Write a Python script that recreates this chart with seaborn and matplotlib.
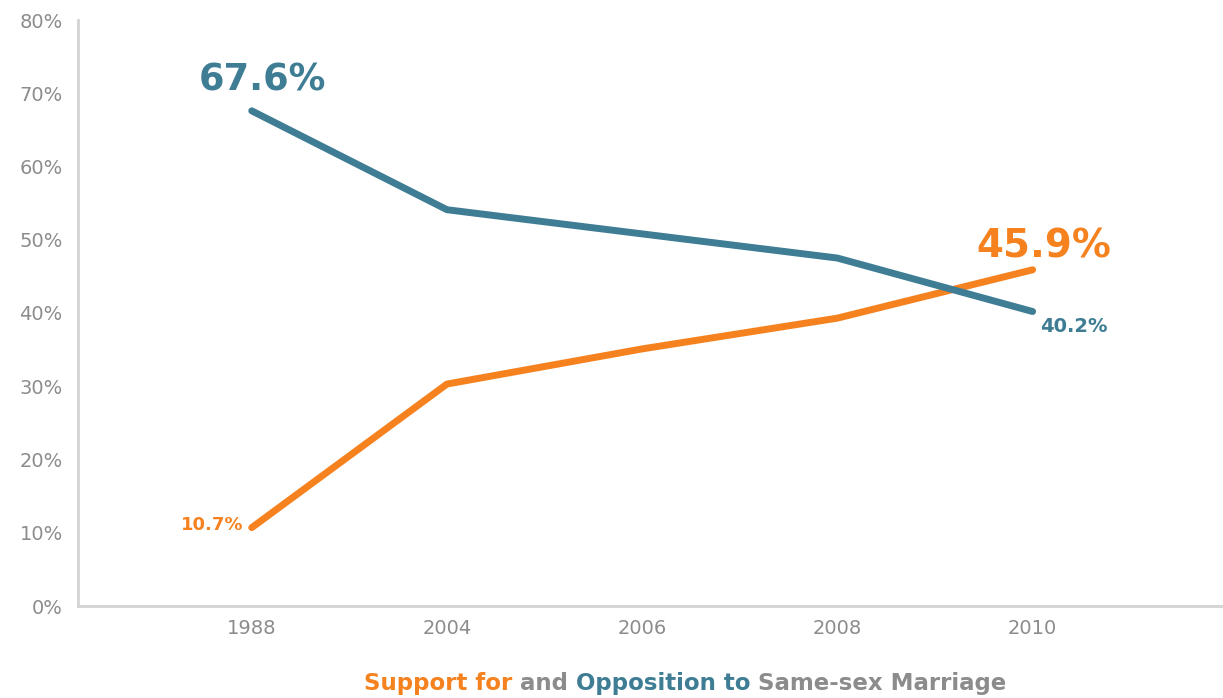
import pandas as pd
import matplotlib.pyplot as plt
import seaborn as sns

# Data
years = ["1988", "2004", "2006", "2008", "2010"]
support = [10.7, 30.3, 35.1, 39.3, 45.9]
opposition = [67.6, 54.1, 50.8, 47.5, 40.2]

orange = "#f5821f"
blue = "#3f7d95"
gray = "#8c8c8c"

df = pd.DataFrame({
    "year": years * 2,
    "value": support + opposition,
    "series": ["Support"] * len(years) + ["Opposition"] * len(years),
})

sns.set_theme(style="white")
plt.rcParams["font.family"] = ["DejaVu Sans"]

fig = plt.figure(figsize=(12.23, 6.98), dpi=100)
ax = fig.add_axes([78 / 1223, 92 / 698, 1144 / 1223, 586 / 698])

sns.lineplot(data=df, x="year", y="value", hue="series",
             palette={"Support": orange, "Opposition": blue},
             linewidth=5, legend=False, ax=ax, solid_capstyle="round")

ax.set_ylim(0, 80)
ax.set_xlim(-0.89, 4.97)
ax.set_yticks(range(0, 81, 10))
ax.set_yticklabels([f"{v}%" for v in range(0, 81, 10)])
ax.set_xlabel("")
ax.set_ylabel("")
ax.tick_params(axis="both", length=0, colors=gray, labelsize=14)
ax.tick_params(axis="y", pad=11)
ax.tick_params(axis="x", pad=9)

for side in ["top", "right"]:
    ax.spines[side].set_visible(False)
for side in ["left", "bottom"]:
    ax.spines[side].set_color("#d4d4d4")
    ax.spines[side].set_linewidth(2)

# Value labels
ax.annotate(f"{opposition[0]}%", xy=(0, opposition[0]), xytext=(8, 22),
            textcoords="offset points", ha="center", va="center",
            fontsize=26.5, fontweight="bold", color=blue)
ax.annotate(f"{support[-1]}%", xy=(4, support[-1]), xytext=(8, 17),
            textcoords="offset points", ha="center", va="center",
            fontsize=28, fontweight="bold", color=orange)
ax.annotate(f"{opposition[-1]}%", xy=(4, opposition[-1]), xytext=(5, -11),
            textcoords="offset points", ha="left", va="center",
            fontsize=14, fontweight="bold", color=blue)
ax.annotate(f"{support[0]}%", xy=(0, support[0]), xytext=(-6, 2),
            textcoords="offset points", ha="right", va="center",
            fontsize=13, fontweight="bold", color=orange)

# Multi-coloured caption at the bottom
pieces = [("Support for", orange), (" and ", gray),
          ("Opposition to", blue), (" Same-sex Marriage", gray)]
baseline_y = 1 - 690 / 698
renderer = fig.canvas.get_renderer()
texts = []
for s, c in pieces:
    t = fig.text(0, baseline_y, s, color=c, fontsize=16.5, fontweight="bold",
                 ha="left", va="baseline")
    texts.append(t)
widths = [t.get_window_extent(renderer).width for t in texts]
start = 685 - sum(widths) / 2
for t, w in zip(texts, widths):
    t.set_position((start / 1223, baseline_y))
    start += w

fig.savefig("out.png", dpi=100)
